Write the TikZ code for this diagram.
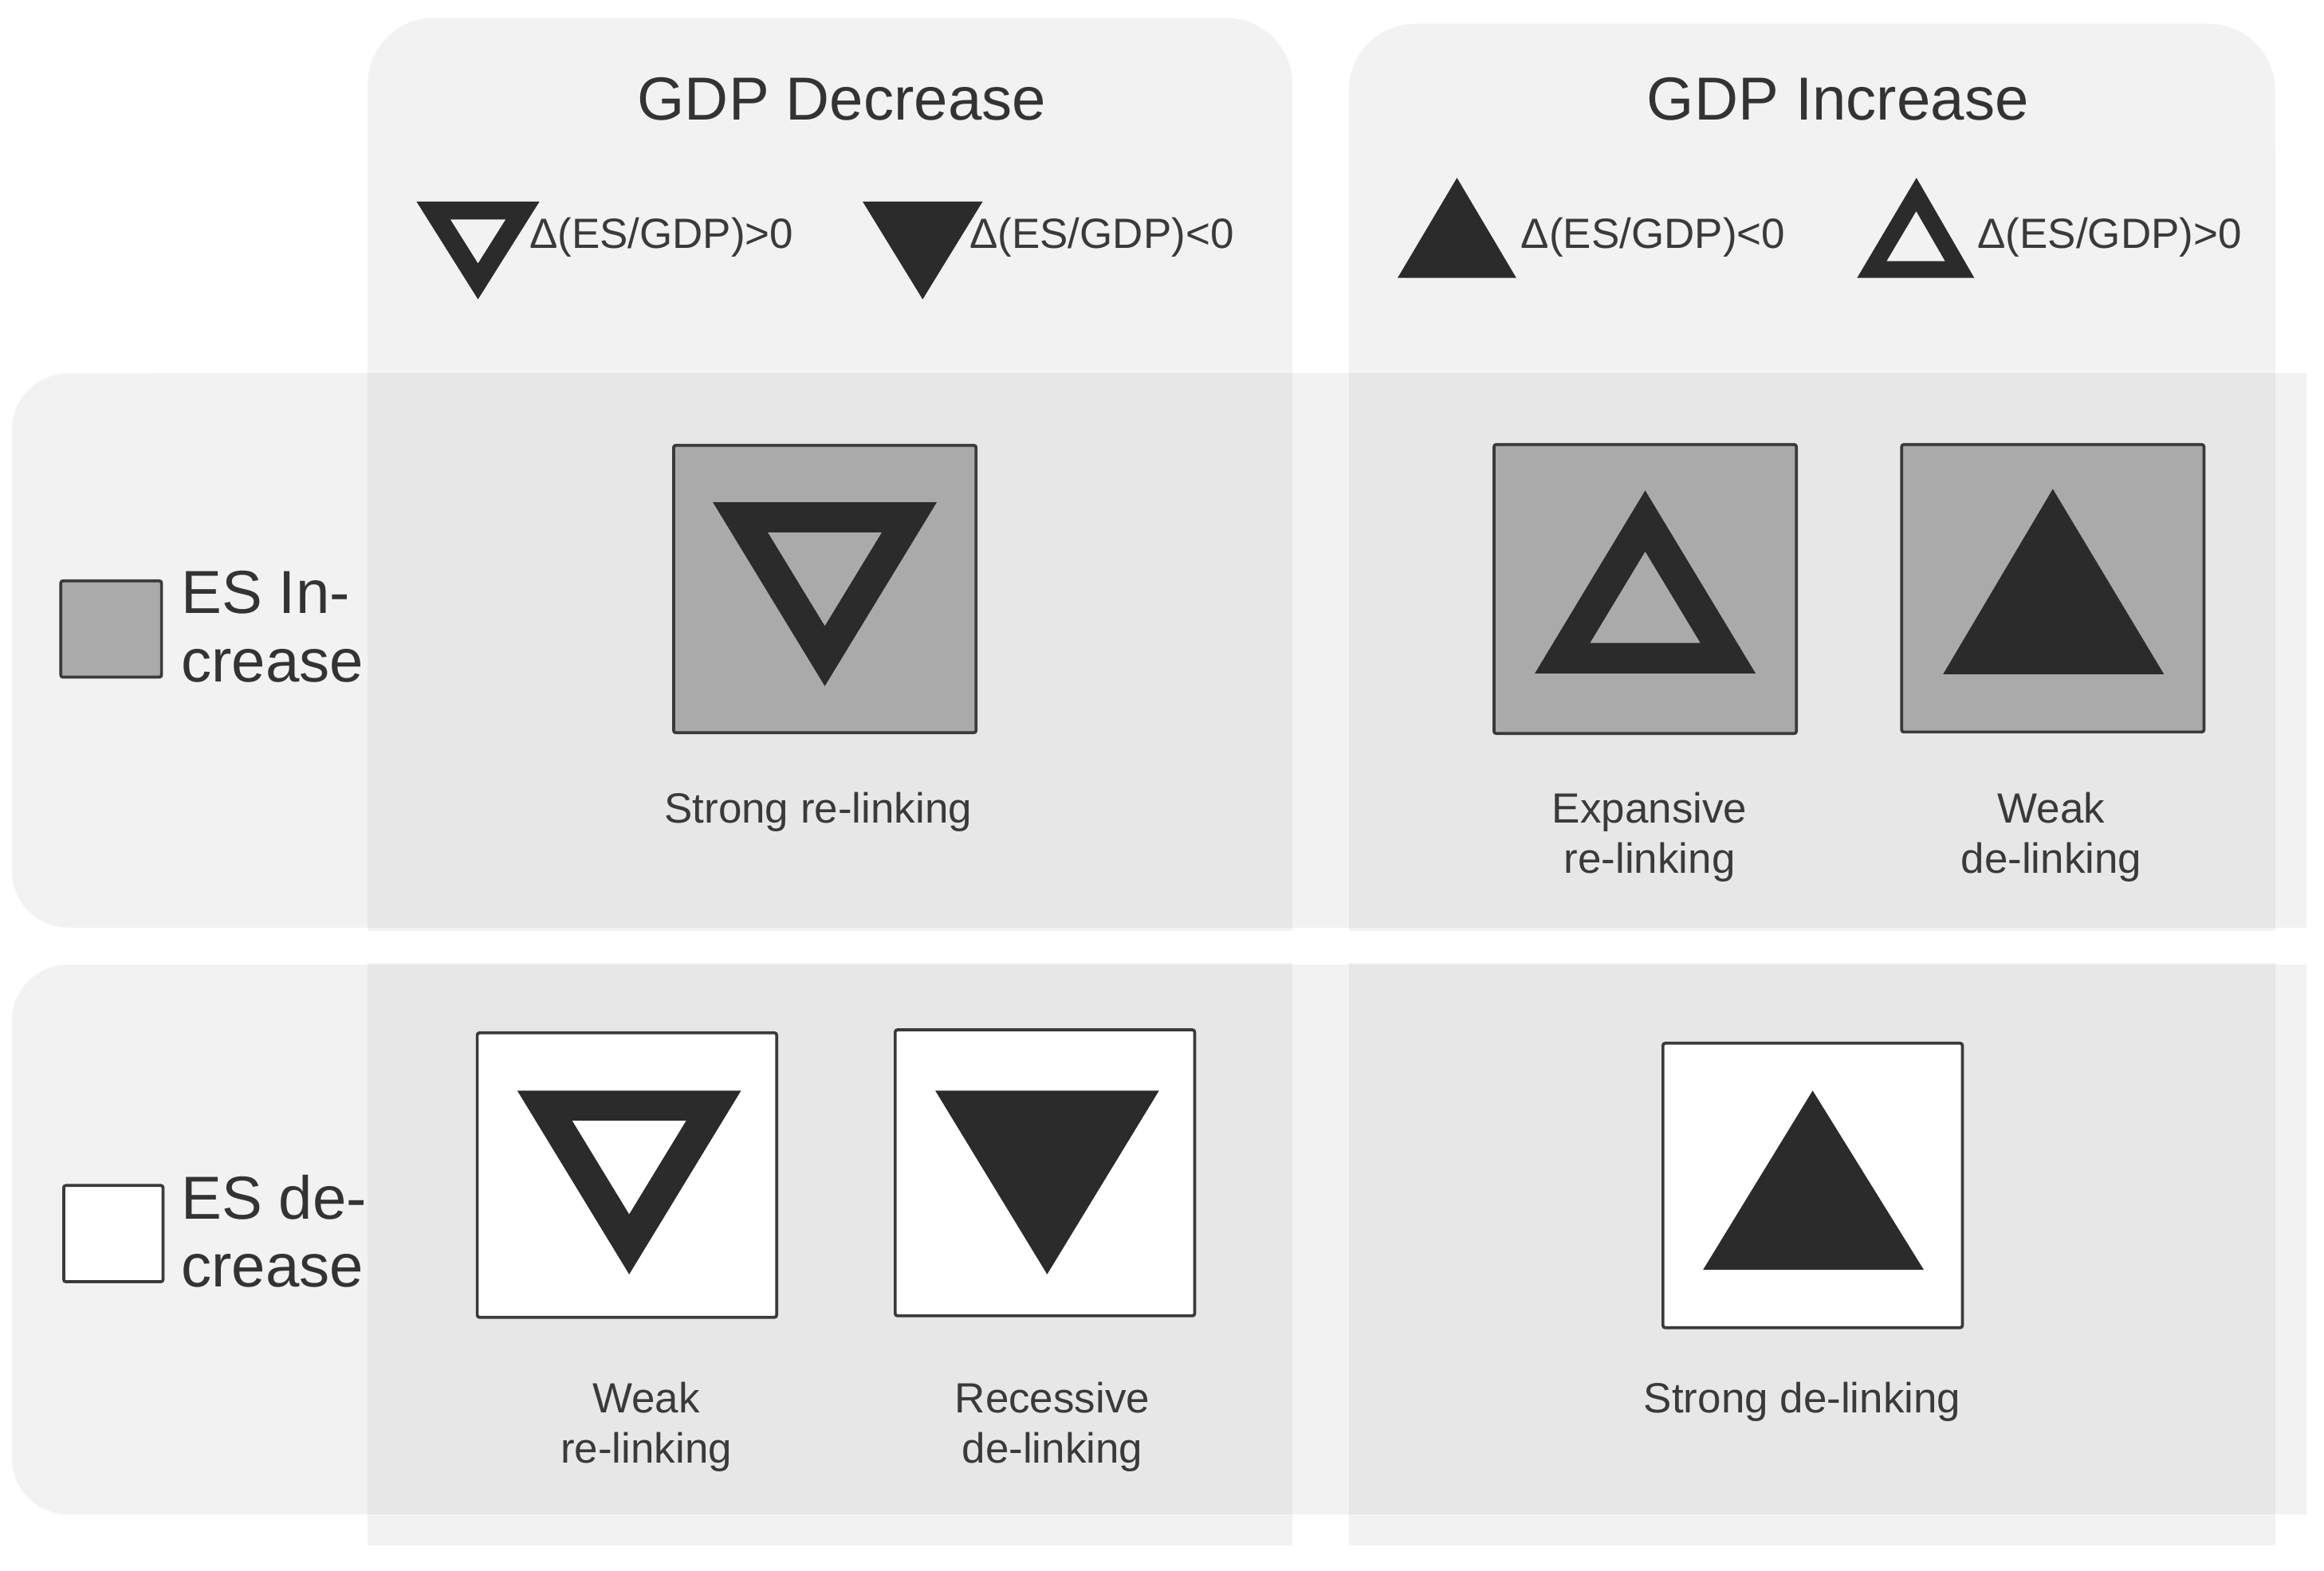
\documentclass[tikz,border=0pt]{standalone}
\usepackage{fontspec}
\setmainfont{Liberation Sans}
\definecolor{bandc}{HTML}{F2F2F2}
\definecolor{ovc}{HTML}{E7E7E7}
\definecolor{boxline}{HTML}{3A3A3A}
\definecolor{upfill}{HTML}{AAAAAA}
\definecolor{tric}{HTML}{2B2B2B}
\definecolor{txt}{HTML}{333333}
\definecolor{lbltxt}{HTML}{3A3A3A}
\newcommand{\otri}[7]{%
  \pgfmathsetmacro{\otgx}{(#1+#3+#5)/3}%
  \pgfmathsetmacro{\otgy}{(#2+#4+#6)/3}%
  \fill[tric,even odd rule] (#1,#2) -- (#3,#4) -- (#5,#6) -- cycle
    ({\otgx+#7*(#1-\otgx)},{\otgy+#7*(#2-\otgy)}) --
    ({\otgx+#7*(#3-\otgx)},{\otgy+#7*(#4-\otgy)}) --
    ({\otgx+#7*(#5-\otgx)},{\otgy+#7*(#6-\otgy)}) -- cycle;}
\newcommand{\ftri}[6]{%
  \fill[tric] (#1,#2) -- (#3,#4) -- (#5,#6) -- cycle;}
\begin{document}
\begin{tikzpicture}[x=1pt,y=-1pt,
  band/.style={fill=bandc},
  overlap/.style={fill=ovc},
  cellbox/.style={draw=boxline,line width=2pt,rounded corners=1.5pt,inner sep=0pt},
  head/.style={text=txt,font=\fontsize{41}{46}\selectfont,inner sep=0pt},
  side/.style={text=txt,font=\fontsize{41}{46}\selectfont,inner sep=0pt,align=left,anchor=west},
  lbl/.style={text=lbltxt,font=\fontsize{28.5}{34}\selectfont,inner sep=0pt,align=center},
  keylbl/.style={text=lbltxt,font=\fontsize{28.5}{32}\selectfont,inner sep=0pt,anchor=west}]
\useasboundingbox (0,0) rectangle (1568,1060);
\fill[white] (0,0) rectangle (1568,1060);

% column bands (rounded tops)
\fill[band,rounded corners=45pt] (248,12) rectangle (872,628);
\fill[band] (248,100) rectangle (872,628);
\fill[band,rounded corners=45pt] (910,16) rectangle (1535,628);
\fill[band] (910,100) rectangle (1535,628);
\fill[band] (248,650) rectangle (872,1043);
\fill[band] (910,650) rectangle (1535,1043);
% row bands (rounded left ends)
\fill[band,rounded corners=38pt] (8,252) rectangle (1556,626);
\fill[band] (100,252) rectangle (1556,626);
\fill[band,rounded corners=38pt] (8,651) rectangle (1556,1022);
\fill[band] (100,651) rectangle (1556,1022);
% overlaps
\fill[overlap] (248,252) rectangle (872,626);
\fill[overlap] (910,252) rectangle (1535,626);
\fill[overlap] (248,651) rectangle (872,1022);
\fill[overlap] (910,651) rectangle (1535,1022);

% headings
\node[head] (hdec) at (568,67) {GDP Decrease};
\node[head] (hinc) at (1240,67) {GDP Increase};

% key triangles
\otri{281}{136}{364}{136}{322.5}{202}{0.45}
\node[keylbl] (k1) at (357,160) {Δ(ES/GDP)>0};
\ftri{582}{136}{663}{136}{622.5}{202}
\node[keylbl] (k2) at (654,160) {Δ(ES/GDP)<0};
\ftri{943}{187.5}{1023}{187.5}{983}{120}
\node[keylbl] (k3) at (1026,160) {Δ(ES/GDP)<0};
\otri{1253}{187.5}{1332}{187.5}{1293}{120}{0.5}
\node[keylbl] (k4) at (1334,160) {Δ(ES/GDP)>0};

% side legend
\node[cellbox,fill=upfill,minimum width=68pt,minimum height=65pt] (legup) at (75,424.5) {};
\node[side] (esinc) at (122,423) {ES In-\\crease};
\node[cellbox,fill=white,minimum width=67pt,minimum height=65pt] (legdn) at (76.5,832.5) {};
\node[side] (esdec) at (122,831) {ES de-\\crease};

% row 1 cells
\node[cellbox,fill=upfill,minimum width=204pt,minimum height=194pt] (sqA) at (556.5,397.5) {};
\otri{481}{339}{632}{339}{556.5}{463}{0.51}
\node[lbl] (lA) at (552,548) {Strong re-linking};

\node[cellbox,fill=upfill,minimum width=204pt,minimum height=195pt] (sqB) at (1110,397.5) {};
\otri{1035.5}{454.5}{1184.5}{454.5}{1110}{331}{0.5}
\node[lbl] (lB) at (1113,565) {Expansive\\re-linking};

\node[cellbox,fill=upfill,minimum width=204pt,minimum height=194pt] (sqC) at (1385,397) {};
\ftri{1311}{455}{1460}{455}{1385}{330}
\node[lbl] (lC) at (1384,565) {Weak\\de-linking};

% row 2 cells
\node[cellbox,fill=white,minimum width=202pt,minimum height=192pt] (sqD) at (423,793) {};
\otri{349}{736}{500}{736}{424.5}{860}{0.51}
\node[lbl] (lD) at (436,963) {Weak\\re-linking};

\node[cellbox,fill=white,minimum width=202pt,minimum height=193pt] (sqE) at (705,791.5) {};
\ftri{631}{736}{782}{736}{706.5}{860}
\node[lbl] (lE) at (710,963) {Recessive\\de-linking};

\node[cellbox,fill=white,minimum width=202pt,minimum height=192pt] (sqF) at (1223,800) {};
\ftri{1149}{857}{1298}{857}{1223}{736}
\node[lbl] (lF) at (1216,946) {Strong de-linking};
\end{tikzpicture}
\end{document}
